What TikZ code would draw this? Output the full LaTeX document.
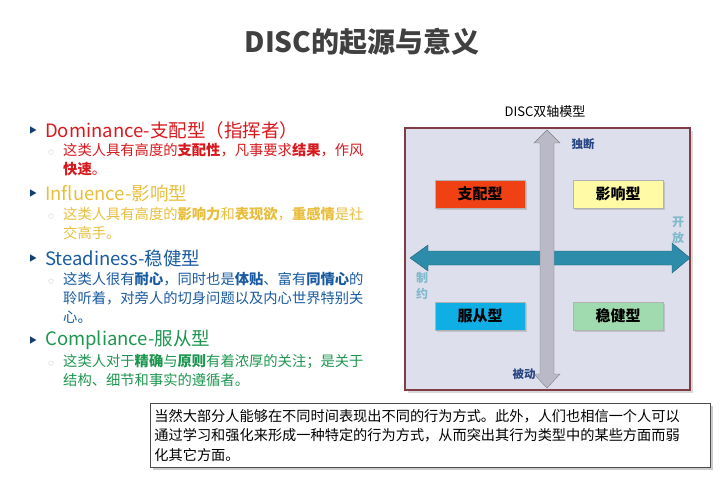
\documentclass[tikz,border=0pt]{standalone}
\usepackage{fontspec}
\setmainfont{Noto Sans CJK SC}
\usetikzlibrary{shadows}
\definecolor{cD}{RGB}{215,25,30}
\definecolor{cI}{RGB}{232,190,60}
\definecolor{cS}{RGB}{25,90,160}
\definecolor{cC}{RGB}{30,150,80}
\definecolor{frame}{RGB}{130,60,70}
\definecolor{lav}{RGB}{222,223,236}
\definecolor{teal}{RGB}{45,140,170}
\definecolor{axg}{RGB}{185,185,200}
\definecolor{lbl}{RGB}{40,70,130}
\tikzset{
 head/.style={anchor=west,font=\fontsize{18.5}{20}\selectfont,inner sep=0},
 body/.style={anchor=north west,font=\fontsize{14.3}{19}\selectfont,align=left,inner sep=0},
 tri/.style={anchor=center,font=\fontsize{8}{8}\selectfont,text=cS!70!black},
 circ/.style={anchor=center,font=\fontsize{5}{5}\selectfont,text=gray},
 qbox/.style={minimum width=90pt,minimum height=28pt,inner sep=0,draw=gray!60,font=\bfseries\fontsize{15}{15}\selectfont,drop shadow={opacity=0.3,shadow xshift=2pt,shadow yshift=-2pt}},
 axl/.style={font=\bfseries\fontsize{11.5}{12}\selectfont,text=lbl,inner sep=0}
}
\begin{document}
\begin{tikzpicture}[x=1pt,y=-1pt]
\useasboundingbox (0,0) rectangle (723,500);
\node[font=\bfseries\fontsize{28}{30}\selectfont,text=black!75] (title) at (362,42) {DISC的起源与意义};
% left list
\node[tri] (t1) at (33,130) {▶};
\node[head,text=cD] (h1) at (45,130) {Dominance-支配型（指挥者）};
\node[circ] (c1) at (51,153) {○};
\node[body,text=cD] (b1) at (63,143) {这类人具有高度的\textbf{支配性}，凡事要求\textbf{结果}，作风\\\textbf{快速}。};
\node[tri] (t2) at (33,193) {▶};
\node[head,text=cI] (h2) at (45,193) {Influence-影响型};
\node[circ] (c2) at (51,217) {○};
\node[body,text=cI] (b2) at (63,207) {这类人具有高度的\textbf{影响力}和\textbf{表现欲}，\textbf{重感情}是社\\交高手。};
\node[tri] (t3) at (33,258) {▶};
\node[head,text=cS] (h3) at (45,258) {Steadiness-稳健型};
\node[circ] (c3) at (51,282) {○};
\node[body,text=cS] (b3) at (63,272) {这类人很有\textbf{耐心}，同时也是\textbf{体贴}、富有\textbf{同情心}的\\聆听着，对旁人的切身问题以及内心世界特别关\\心。};
\node[tri] (t4) at (33,340) {▶};
\node[head,text=cC] (h4) at (45,340) {Compliance-服从型};
\node[circ] (c4) at (51,364) {○};
\node[body,text=cC] (b4) at (63,354) {这类人对于\textbf{精确}与\textbf{原则}有着浓厚的关注；是关于\\结构、细节和事实的遵循者。};
% model
\node[font=\fontsize{13}{13}\selectfont] (mt) at (545,112) {DISC双轴模型};
\draw[frame,line width=2pt,fill=lav,drop shadow={opacity=0.3}] (405,128) rectangle (690,390);
% horizontal arrow
\fill[teal,draw=teal!70!black] (410,258) -- (428,245) -- (428,251) -- (672,251) -- (672,243) -- (690,258) -- (672,273) -- (672,265) -- (428,265) -- (428,271) -- cycle;
% vertical arrow
\fill[axg,draw=gray] (547,130) -- (560,143) -- (554,143) -- (554,374) -- (560,374) -- (547,388) -- (534,374) -- (540,374) -- (540,143) -- (534,143) -- cycle;
\node[qbox,fill={rgb,255:red,240;green,65;blue,20}] (d) at (480,194) {支配型};
\node[qbox,fill=yellow!35] (i) at (618,194) {影响型};
\node[qbox,fill={rgb,255:red,15;green,175;blue,230}] (c) at (480,316) {服从型};
\node[qbox,fill={rgb,255:red,160;green,218;blue,175}] (s) at (618,316) {稳健型};
\node[axl] (a1) at (583,144) {独断};
\node[axl] (a2) at (524,374) {被动};
\node[axl,text=teal!60,align=center,font=\bfseries\fontsize{12}{16}\selectfont] (a3) at (678,230) {开\\放};
\node[axl,text=teal!60,align=center,font=\bfseries\fontsize{12}{16}\selectfont] (a4) at (422,286) {制\\约};
% bottom note
\node[draw=black!70,fill=white,line width=0.8pt,drop shadow={opacity=0.4},anchor=north west,minimum width=560pt,minimum height=64pt,inner sep=4pt,align=left,text width=552pt,font=\fontsize{14.2}{19.5}\selectfont] (note) at (150,403) {当然大部分人能够在不同时间表现出不同的行为方式。此外，人们也相信一个人可以\\通过学习和强化来形成一种特定的行为方式，从而突出其行为类型中的某些方面而弱\\化其它方面。};
\end{tikzpicture}
\end{document}
